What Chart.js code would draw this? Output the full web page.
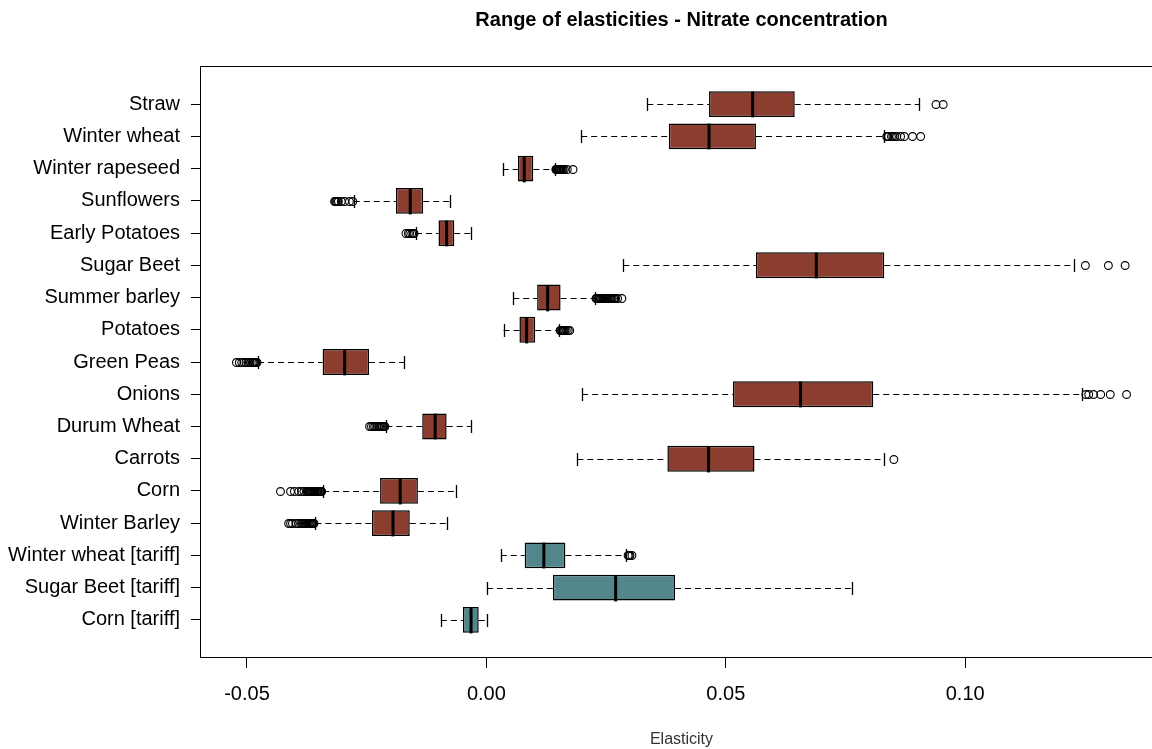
<!DOCTYPE html>
<html>
<head>
<meta charset="utf-8">
<script src="https://cdn.jsdelivr.net/npm/chart.js@4.4.0/dist/chart.umd.min.js"></script>
<style>
    html, body { margin: 0; padding: 0; background: #fff; overflow: hidden; }
    #wrap { width: 1170px; height: 749px; }
</style>
</head>
<body>
<div id="wrap"><canvas id="chart" width="1170" height="749"></canvas></div>
<script>
const crops = ['Straw', 'Winter wheat', 'Winter rapeseed', 'Sunflowers', 'Early Potatoes', 'Sugar Beet',
    'Summer barley', 'Potatoes', 'Green Peas', 'Onions', 'Durum Wheat', 'Carrots', 'Corn', 'Winter Barley',
    'Winter wheat [tariff]', 'Sugar Beet [tariff]', 'Corn [tariff]'];

const lowWhisker = [0.0336, 0.0198, 0.0034, -0.0277, -0.0147, 0.0286, 0.0056, 0.0036, -0.0477, 0.0200, -0.0209, 0.0190, -0.0341, -0.0357, 0.0030, 0.0001, -0.0095];
const q1 = [0.0465, 0.0381, 0.0066, -0.0189, -0.0100, 0.0563, 0.0106, 0.0069, -0.0342, 0.0515, -0.0134, 0.0378, -0.0222, -0.0239, 0.0080, 0.0139, -0.0049];
const median = [0.0556, 0.0465, 0.0079, -0.0159, -0.0083, 0.0689, 0.0128, 0.0084, -0.0296, 0.0656, -0.0107, 0.0464, -0.0180, -0.0195, 0.0120, 0.0270, -0.0032];
const q3 = [0.0644, 0.0563, 0.0098, -0.0132, -0.0067, 0.0831, 0.0155, 0.0102, -0.0245, 0.0808, -0.0083, 0.0560, -0.0143, -0.0160, 0.0165, 0.0394, -0.0016];
const highWhisker = [0.0904, 0.0831, 0.0143, -0.0075, -0.0032, 0.1227, 0.0227, 0.0152, -0.0172, 0.1243, -0.0032, 0.0830, -0.0064, -0.0082, 0.0292, 0.0764, 0.0001];

const outliers = [
    [0.0939, 0.0954],
    [0.0836, 0.0838, 0.0840, 0.0846, 0.0849, 0.0853, 0.0857, 0.0865, 0.0873, 0.0890, 0.0907],
    [0.0145, 0.0146, 0.0147, 0.0148, 0.0150, 0.0151, 0.0152, 0.0153, 0.0155, 0.0156, 0.0158, 0.0160, 0.0163, 0.0169, 0.0181],
    [-0.0317, -0.0315, -0.0314, -0.0311, -0.0309, -0.0303, -0.0296, -0.0286, -0.0279],
    [-0.0168, -0.0163, -0.0160, -0.0156, -0.0153, -0.0151],
    [0.1251, 0.1299, 0.1334],
    [0.0229, 0.0230, 0.0232, 0.0234, 0.0236, 0.0238, 0.0239, 0.0241, 0.0243, 0.0245, 0.0248, 0.0250, 0.0252, 0.0254, 0.0257, 0.0259, 0.0261, 0.0263, 0.0266, 0.0268, 0.0270, 0.0274, 0.0283],
    [0.0154, 0.0155, 0.0157, 0.0158, 0.0160, 0.0162, 0.0164, 0.0167, 0.0171, 0.0174],
    [-0.0522, -0.0516, -0.0511, -0.0506, -0.0502, -0.0497, -0.0493, -0.0489, -0.0487, -0.0485, -0.0483, -0.0481, -0.0479],
    [0.1252, 0.1258, 0.1268, 0.1283, 0.1303, 0.1337],
    [-0.0244, -0.0240, -0.0236, -0.0233, -0.0229, -0.0225, -0.0223, -0.0221, -0.0219, -0.0217, -0.0214, -0.0212],
    [0.0851],
    [-0.0430, -0.0409, -0.0401, -0.0392, -0.0386, -0.0381, -0.0376, -0.0374, -0.0372, -0.0370, -0.0368, -0.0366, -0.0364, -0.0362, -0.0360, -0.0358, -0.0357, -0.0355, -0.0354, -0.0352, -0.0351, -0.0349, -0.0348, -0.0346, -0.0345, -0.0344],
    [-0.0413, -0.0409, -0.0405, -0.0398, -0.0392, -0.0387, -0.0384, -0.0382, -0.0380, -0.0378, -0.0376, -0.0374, -0.0372, -0.0370, -0.0368, -0.0366, -0.0364, -0.0363, -0.0361, -0.0360],
    [0.0296, 0.0298, 0.0300, 0.0304],
    [],
    []
];

const xTicks = [-0.05, 0.00, 0.05, 0.10];
const xTickLabels = ['-0.05', '0.00', '0.05', '0.10'];

const brown = '#8B3E2F';
const teal = '#53868B';
const font = "'Liberation Sans', Arial, sans-serif";

// whiskers, staples, medians, outliers and the box frame
const boxPlot = {
    id: 'boxPlot',
    afterDatasetsDraw(chart) {
        const {ctx, scales: {x, y}} = chart;
        const bars = chart.getDatasetMeta(0).data;
        ctx.save();
        ctx.strokeStyle = '#000';
        crops.forEach((c, i) => {
            const yc = Math.round(y.getPixelForValue(i + 1)) + 0.5;
            const h = bars[i].height;
            const xl = x.getPixelForValue(lowWhisker[i]);
            const xq1 = x.getPixelForValue(q1[i]);
            const xq3 = x.getPixelForValue(q3[i]);
            const xh = x.getPixelForValue(highWhisker[i]);
            const xm = x.getPixelForValue(median[i]);

            ctx.lineWidth = 1.2;
            ctx.setLineDash([6, 4]);
            ctx.beginPath();
            ctx.moveTo(xl, yc);
            ctx.lineTo(xq1, yc);
            ctx.moveTo(xq3, yc);
            ctx.lineTo(xh, yc);
            ctx.stroke();

            ctx.setLineDash([]);
            ctx.lineWidth = 1.3;
            ctx.beginPath();
            ctx.moveTo(Math.round(xl) + 0.5, yc - h / 4);
            ctx.lineTo(Math.round(xl) + 0.5, yc + h / 4);
            ctx.moveTo(Math.round(xh) + 0.5, yc - h / 4);
            ctx.lineTo(Math.round(xh) + 0.5, yc + h / 4);
            ctx.stroke();

            ctx.lineWidth = 3;
            ctx.beginPath();
            ctx.moveTo(xm, yc - h / 2);
            ctx.lineTo(xm, yc + h / 2);
            ctx.stroke();

            ctx.lineWidth = 1.1;
            outliers[i].forEach(v => {
                ctx.beginPath();
                ctx.arc(x.getPixelForValue(v), yc, 3.9, 0, Math.PI * 2);
                ctx.stroke();
            });
        });
        const a = chart.chartArea;
        ctx.lineWidth = 1;
        ctx.strokeRect(Math.round(a.left) - 0.5, Math.round(a.top) + 0.5, Math.round(a.right - a.left), Math.round(a.bottom - a.top) - 1);
        ctx.restore();
    }
};

new Chart(document.getElementById('chart'), {
    type: 'bar',
    data: {
        datasets: [{
            data: crops.map((c, i) => ({x: [q1[i], q3[i]], y: i + 1})),
            backgroundColor: crops.map(c => c.includes('[tariff]') ? teal : brown),
            borderColor: '#000',
            borderWidth: 1.5,
            borderSkipped: false,
            categoryPercentage: 1,
            barPercentage: 0.8
        }]
    },
    options: {
        indexAxis: 'y',
        responsive: false,
        animation: false,
        layout: {padding: {left: 0, right: 8, top: 0, bottom: 0}},
        plugins: {
            legend: {display: false},
            tooltip: {enabled: false},
            title: {
                display: true,
                fullSize: false,
                text: 'Range of elasticities - Nitrate concentration',
                color: '#000',
                font: {family: font, size: 20, weight: 'bold', lineHeight: 1.2},
                padding: {top: 8, bottom: 34}
            }
        },
        scales: {
            x: {
                type: 'linear',
                min: -0.0596,
                max: 0.1411,
                afterBuildTicks: scale => {
                    scale.ticks = xTicks.map(v => ({value: v}));
                },
                afterFit: scale => {
                    scale.height = 91;
                },
                ticks: {
                    color: '#000',
                    font: {family: font, size: 20},
                    padding: 14,
                    callback: (v, i) => xTickLabels[i]
                },
                grid: {drawOnChartArea: false, drawTicks: true, tickLength: 10, color: '#000'},
                border: {display: false},
                title: {
                    display: true,
                    text: 'Elasticity',
                    color: '#333',
                    font: {family: font, size: 16, lineHeight: 1.2},
                    padding: {top: 0, bottom: 0}
                }
            },
            y: {
                type: 'linear',
                reverse: true,
                offset: false,
                min: -0.18,
                max: 18.18,
                afterBuildTicks: scale => {
                    scale.ticks = crops.map((c, i) => ({value: i + 1}));
                },
                afterFit: scale => {
                    scale.width = 201;
                },
                ticks: {
                    color: '#000',
                    font: {family: font, size: 20},
                    padding: 11,
                    callback: v => crops[v - 1]
                },
                grid: {offset: false, drawOnChartArea: false, drawTicks: true, tickLength: 10, color: '#000'},
                border: {display: false}
            }
        }
    },
    plugins: [boxPlot]
});
</script>
</body>
</html>
